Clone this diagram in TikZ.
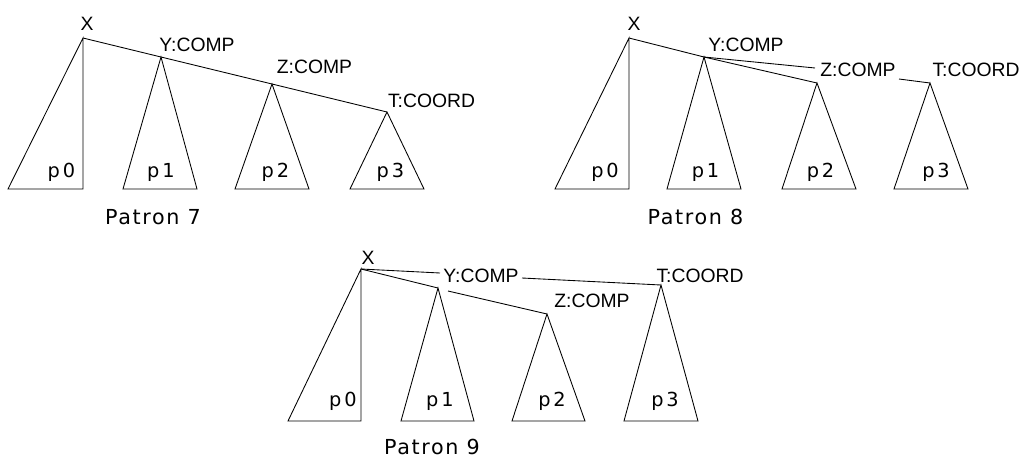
\documentclass[tikz,border=0pt]{standalone}
\usepackage{fontspec}
\setmainfont{Liberation Sans}
\newfontfamily\gfont{DejaVu Sans}[LetterSpace=8]
\newfontfamily\pfont{DejaVu Sans}
\begin{document}
\begin{tikzpicture}[x=0.75pt,y=-0.75pt,line width=0.65pt,
  lab/.style={inner sep=0pt,font=\fontsize{14.5}{16}\selectfont},
  plab/.style={inner sep=0pt,anchor=base,font=\pfont\fontsize{14.5}{16}\selectfont},
  caption/.style={inner sep=0pt,anchor=base,font=\gfont\fontsize{15.5}{17}\selectfont},
  tri/.style={draw,line join=miter}]
\useasboundingbox (0,0) rectangle (1026,465);

% ---------- Patron 7 ----------
\coordinate (a7) at (83,38);
\coordinate (b7) at (161,57);
\coordinate (c7) at (272,84);
\coordinate (d7) at (387,112);
\node[lab] (x7) at (87,24) {X};
\node[lab] (y7) at (197,44.5) {Y:COMP};
\node[lab] (z7) at (314.5,66.5) {Z:COMP};
\node[lab] (t7) at (431.5,101) {T:COORD};
\draw[tri] (a7) -- ++(-75,151) -- ++(75,0) -- cycle;
\draw[tri] (b7) -- ++(-38,132) -- ++(74,0) -- cycle;
\draw[tri] (c7) -- ++(-37,105) -- ++(74,0) -- cycle;
\draw[tri] (d7) -- ++(-37,77) -- ++(74,0) -- cycle;
\draw (a7) -- (b7) -- (c7) -- (d7);
\node[plab] (p07) at (61.5,177) {p\kern2.2pt 0};
\node[plab] (p17) at (161,177) {p\kern2.2pt 1};
\node[plab] (p27) at (275.5,177) {p\kern2.2pt 2};
\node[plab] (p37) at (390.5,177) {p\kern2.2pt 3};
\node[caption] (cap7) at (153,224) {Patron 7};

% ---------- Patron 8 ----------
\coordinate (a8) at (629,38);
\coordinate (b8) at (704,57);
\coordinate (c8) at (817,83);
\coordinate (d8) at (930,83);
\coordinate (ze8) at (815,68);
\coordinate (zs8) at (899,79);
\node[lab] (x8) at (634,24) {X};
\node[lab] (y8) at (746,44.5) {Y:COMP};
\node[lab] (z8) at (858,69.5) {Z:COMP};
\node[lab] (t8) at (976,69.5) {T:COORD};
\draw[tri] (a8) -- ++(-74,151) -- ++(74,0) -- cycle;
\draw[tri] (b8) -- ++(-37,132) -- ++(74,0) -- cycle;
\draw[tri] (c8) -- ++(-35,106) -- ++(74,0) -- cycle;
\draw[tri] (d8) -- ++(-36,106) -- ++(74,0) -- cycle;
\draw (a8) -- (b8) -- (c8);
\draw (b8) -- (ze8);
\draw (zs8) -- (d8);
\node[plab] (p08) at (605,177) {p\kern2.2pt 0};
\node[plab] (p18) at (705.5,177) {p\kern2.2pt 1};
\node[plab] (p28) at (820.5,177) {p\kern2.2pt 2};
\node[plab] (p38) at (936,177) {p\kern2.2pt 3};
\node[caption] (cap8) at (695.5,224) {Patron 8};

% ---------- Patron 9 ----------
\coordinate (a9) at (361,269);
\coordinate (b9) at (438,288);
\coordinate (c9) at (547,314);
\coordinate (d9) at (661,285);
\coordinate (ye9) at (440,273);
\coordinate (ys9) at (522,278);
\coordinate (zs9) at (448,291);
\node[lab] (x9) at (368,257.5) {X};
\node[lab] (y9) at (481,275.5) {Y:COMP};
\node[lab] (z9) at (592,300.5) {Z:COMP};
\node[lab] (t9) at (700,275.5) {T:COORD};
\draw[tri] (a9) -- ++(-73,152) -- ++(73,0) -- cycle;
\draw[tri] (b9) -- ++(-37,133) -- ++(73,0) -- cycle;
\draw[tri] (c9) -- ++(-35,107) -- ++(73,0) -- cycle;
\draw[tri] (d9) -- ++(-37,136) -- ++(74,0) -- cycle;
\draw (a9) -- (ye9);
\draw (ys9) -- (d9);
\draw (a9) -- (b9);
\draw (zs9) -- (c9);
\node[plab] (p09) at (343,406.7) {p\kern2.2pt 0};
\node[plab] (p19) at (440,406.7) {p\kern2.2pt 1};
\node[plab] (p29) at (552,406.7) {p\kern2.2pt 2};
\node[plab] (p39) at (665,406.7) {p\kern2.2pt 3};
\node[caption] (cap9) at (432,454) {Patron 9};
\end{tikzpicture}
\end{document}
